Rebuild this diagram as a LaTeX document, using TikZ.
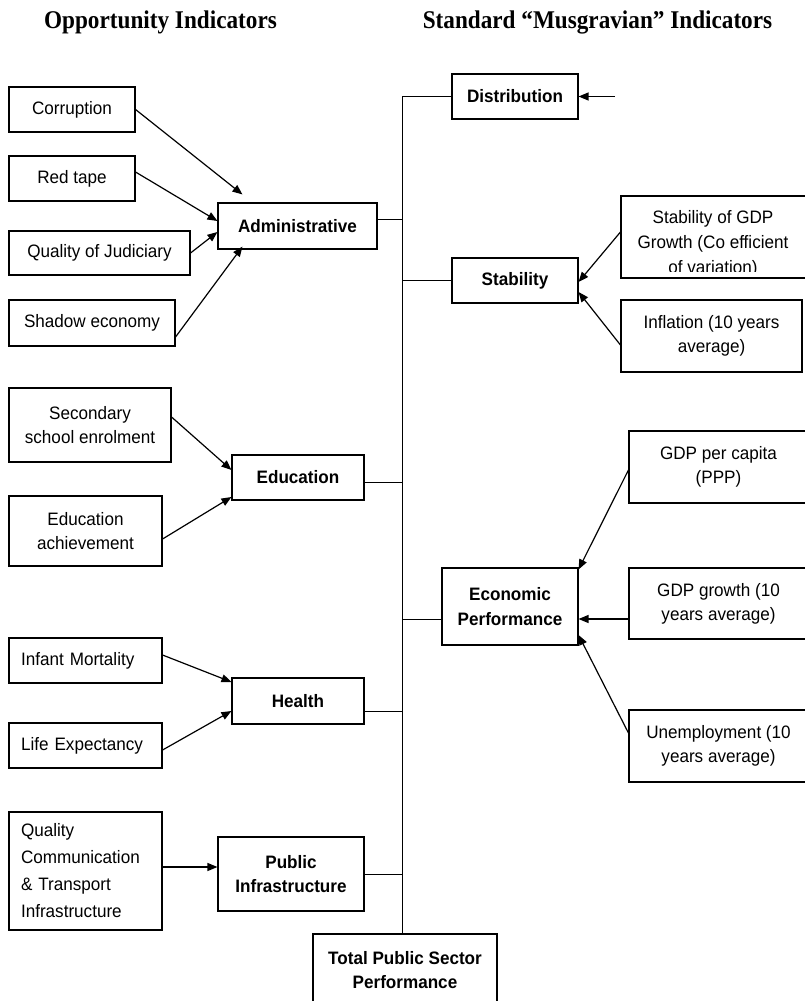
\documentclass[tikz,border=0pt]{standalone}
\usepackage{fontspec}
\setmainfont{Liberation Sans}[FakeStretch=0.95]
\newfontfamily\titlefont{Liberation Serif}[FakeStretch=0.91]
\usetikzlibrary{arrows.meta}
\tikzset{
 box/.style={draw, line width=1.1pt, inner sep=0pt, align=center, font=\fontsize{18}{24}\selectfont},
 lbox/.style={box, align=left, inner xsep=12pt},
 bbox/.style={box, font=\fontsize{18}{24}\selectfont\bfseries},
 arr/.style={line width=1.2pt, -{Triangle[length=10pt,width=8pt]}},
 link/.style={line width=0.9pt},
 title/.style={font=\titlefont\fontsize{25.5}{28}\selectfont\bfseries, anchor=base, inner sep=0pt},
}
\begin{document}
\begin{tikzpicture}[x=1pt,y=-1pt]
\useasboundingbox (0,0) rectangle (805,1001);
% titles
\node[title] (t1) at (160.5,28) {Opportunity Indicators};
\node[title] (t2) at (597.5,28) {Standard “Musgravian” Indicators};
% left column
\node[box, minimum width=126pt, minimum height=45pt] (corr) at (72,109.5) {Corruption};
\node[box, minimum width=126pt, minimum height=45pt] (red) at (72,178.5) {Red tape};
\node[box, minimum width=181pt, minimum height=44pt] (judic) at (99.5,253) {Quality of Judiciary};
\node[box, minimum width=166pt, minimum height=46pt] (shadow) at (92,323) {Shadow economy};
\node[bbox, minimum width=159pt, minimum height=46pt] (admin) at (297.5,226) {Administrative};
\node[box, minimum width=162pt, minimum height=74pt] (second) at (90,425) {Secondary\\school enrolment};
\node[box, minimum width=153pt, minimum height=70pt] (eduach) at (85.5,531) {Education\\achievement};
\node[bbox, minimum width=132pt, minimum height=45pt] (edu) at (298,477.5) {Education};
\node[lbox, text width=129pt, minimum height=45pt] (infant) at (85.5,660.5) {Infant Mortality};
\node[lbox, text width=129pt, minimum height=45pt] (life) at (85.5,745.5) {Life Expectancy};
\node[bbox, minimum width=132pt, minimum height=46pt] (health) at (298,701) {Health};
\node[lbox, text width=129pt, minimum height=118pt, font=\fontsize{18}{27}\selectfont] (qual) at (85.5,871) {Quality\\Communication\\\& Transport\\Infrastructure};
\node[bbox, minimum width=146pt, minimum height=74pt] (pubinf) at (291,874) {Public\\Infrastructure};
\node[bbox, minimum width=184pt, minimum height=72pt] (total) at (405,970) {Total Public Sector\\Performance};
% right column
\node[bbox, minimum width=126pt, minimum height=45pt] (dist) at (515,96.5) {Distribution};
\node[bbox, minimum width=126pt, minimum height=45pt] (stab) at (515,280.5) {Stability};
\begin{scope}
\clip (621,196) rectangle (808,271);
\node[box, draw=none, font=\fontsize{18}{25}\selectfont] (stabgdptxt) at (713,244) {Stability of GDP\\Growth (Co efficient\\of variation)};
\end{scope}
\node[box, minimum width=187pt, minimum height=82pt] (stabgdp) at (714.5,237) {};
\node[box, minimum width=181pt, minimum height=72pt] (infl) at (711.5,336) {Inflation (10 years\\average)};
\node[bbox, minimum width=136pt, minimum height=77pt, font=\fontsize{18}{25}\selectfont\bfseries] (econ) at (510,606.5) {Economic\\Performance};
\node[box, minimum width=179pt, minimum height=72pt] (gdppc) at (718.5,467) {GDP per capita\\(PPP)};
\node[box, minimum width=179pt, minimum height=71pt] (gdpg) at (718.5,603.5) {GDP growth (10\\years average)};
\node[box, minimum width=179pt, minimum height=72pt] (unemp) at (718.5,746) {Unemployment (10\\years average)};
% bus
\coordinate (bus) at (402,96.5);
\coordinate (distsrc) at (615,96.5);
\draw[link] (dist.west) -- (bus) -- (total.north -| bus);
\draw[link] ([yshift=7pt]admin.east) -| (bus);
\draw[link] (stab.west) -| (bus);
\draw[link] ([yshift=-4.5pt]edu.east) -| (bus);
\draw[link] ([yshift=-13pt]econ.west) -| (bus);
\draw[link] ([yshift=-10pt]health.east) -| (bus);
\draw[link] (pubinf.east) -| (bus);
% arrows left
\draw[arr] (corr.east) -- ([xshift=25pt,yshift=8pt]admin.north west);
\draw[arr] ([yshift=6.5pt]red.east) -- ([yshift=5pt]admin.west);
\draw[arr] (judic.east) -- ([yshift=-6pt]admin.west);
\draw[arr] ([yshift=-14pt]shadow.east) -- ([xshift=25pt,yshift=3pt]admin.south west);
\draw[arr] ([yshift=8pt]second.east) -- ([yshift=7.5pt]edu.west);
\draw[arr] ([yshift=-8pt]eduach.east) -- ([yshift=-19.5pt]edu.west);
\draw[arr] ([yshift=5.5pt]infant.east) -- ([yshift=19pt]health.west);
\draw[arr] ([yshift=-4.5pt]life.east) -- ([yshift=-10pt]health.west);
\draw[arr] ([yshift=4pt]qual.east) -- ([yshift=7pt]pubinf.west);
% arrows right
\draw[arr] (distsrc) -- (dist.east);
\draw[arr] ([yshift=5pt]stabgdp.west) -- ([yshift=-1.5pt]stab.east);
\draw[arr] ([yshift=-9pt]infl.west) -- ([yshift=-11.5pt]stab.east);
\draw[arr] ([yshift=-3pt]gdppc.west) -- ([yshift=-2pt]econ.north east);
\draw[arr] ([yshift=-15.5pt]gdpg.west) -- ([yshift=-12.5pt]econ.east);
\draw[arr] ([yshift=13pt]unemp.west) -- ([yshift=-28.5pt]econ.east);
\end{tikzpicture}
\end{document}
